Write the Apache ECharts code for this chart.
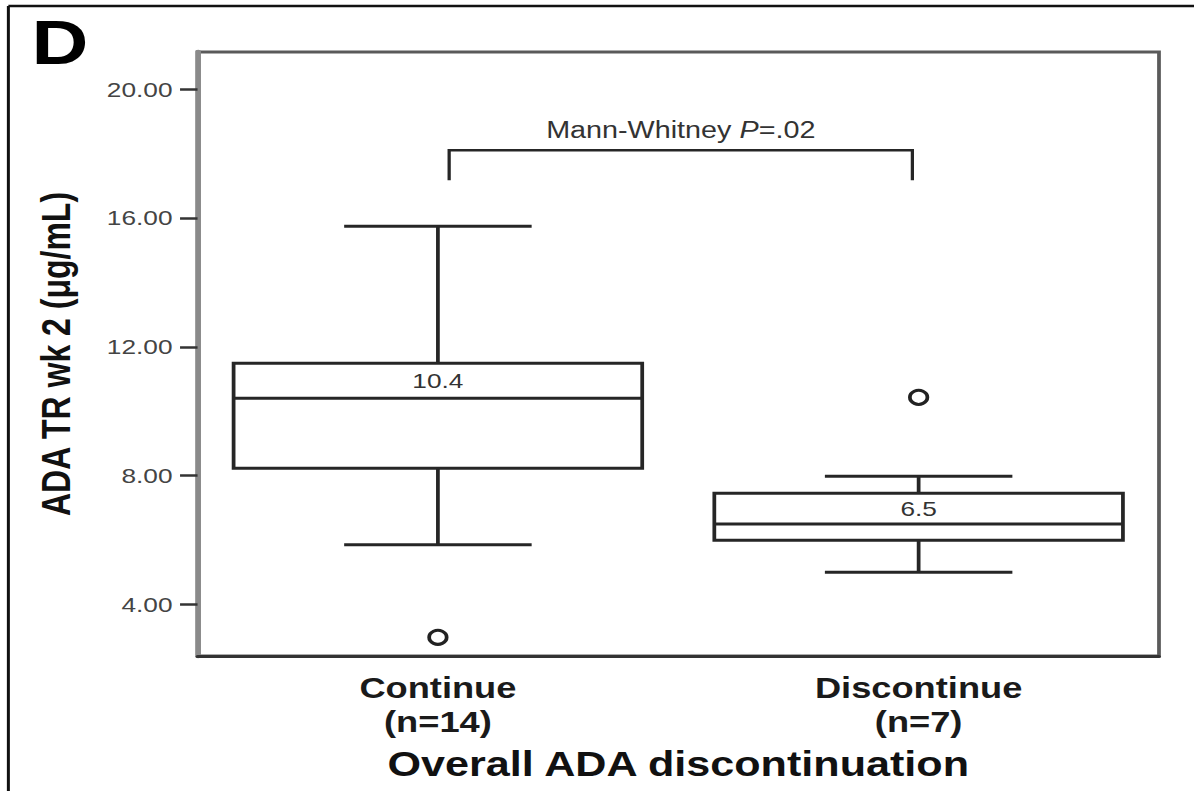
<!DOCTYPE html>
<html>
<head>
<meta charset="utf-8">
<title>ADA TR wk 2 by overall ADA discontinuation</title>
<script src="https://cdn.jsdelivr.net/npm/echarts@6/dist/echarts.min.js"></script>
<style>
  html, body { margin: 0; padding: 0; background: #fff; overflow: hidden; }
  #chart { width: 955px; height: 791px; transform-origin: 0 0; }
</style>
</head>
<body>
<div id="chart"></div>
<script>
// Groups along the x axis
const groupNames = ['Continue', 'Discontinue'];
const groupSizes = [14, 7];

// Five-number summaries per group (µg/mL)
const whiskerLow  = [5.85, 5.0];
const quartile1   = [8.23, 5.99];
const medians     = [10.4, 6.5];
const quartile3   = [11.49, 7.45];
const whiskerHigh = [15.74, 7.98];

// Points beyond the whiskers
const outlierGroup = [0, 1];
const outlierValue = [2.98, 10.43];

// Value-axis ticks
const yTicks = [4, 8, 12, 16, 20];

// Significance bracket: bar level and foot level, and the test result
const bracketLevels = [18.1, 17.17];
const pValueText = '.02';

// The figure is drawn narrow and widened horizontally
const WIDTH = 955, HEIGHT = 791;
const STRETCH = 1194 / WIDTH;
const FONT = '"Liberation Sans", Arial, Helvetica, sans-serif';
const INK = '#262626';

const el = document.getElementById('chart');
el.style.transform = 'scaleX(' + STRETCH + ')';

const categories = groupNames.map((g, i) => g + '\n(n=' + groupSizes[i] + ')');
const boxRows = groupNames.map((g, i) =>
  [i, whiskerLow[i], quartile1[i], medians[i], quartile3[i], whiskerHigh[i]]);
const outlierRows = outlierGroup.map((g, k) => [g, outlierValue[k]]);

const chart = echarts.init(el, null, { renderer: 'svg', width: WIDTH, height: HEIGHT });

function renderBox(params, api) {
  const i = api.value(0);
  const lo = api.coord([i, api.value(1)]);
  const q1 = api.coord([i, api.value(2)]);
  const md = api.coord([i, api.value(3)]);
  const q3 = api.coord([i, api.value(4)]);
  const hi = api.coord([i, api.value(5)]);
  const x = md[0];
  const band = api.size([1, 0])[0];
  const bw = band * 0.85;
  const cw = band * 0.39;
  const line = { stroke: INK, lineWidth: 3, fill: null };
  return {
    type: 'group',
    children: [
      { type: 'line', shape: { x1: x, y1: q3[1], x2: x, y2: hi[1] }, style: line },
      { type: 'line', shape: { x1: x - cw / 2, y1: hi[1], x2: x + cw / 2, y2: hi[1] }, style: line },
      { type: 'line', shape: { x1: x, y1: q1[1], x2: x, y2: lo[1] }, style: line },
      { type: 'line', shape: { x1: x - cw / 2, y1: lo[1], x2: x + cw / 2, y2: lo[1] }, style: line },
      { type: 'rect', shape: { x: x - bw / 2, y: q3[1], width: bw, height: q1[1] - q3[1] },
        style: { fill: '#fff', stroke: INK, lineWidth: 3 } },
      { type: 'line', shape: { x1: x - bw / 2, y1: md[1], x2: x + bw / 2, y2: md[1] }, style: line },
      { type: 'text', x: x, y: (md[1] + q3[1]) / 2,
        style: { text: api.value(3).toFixed(1), align: 'center', verticalAlign: 'middle',
                 fontSize: 21, fontFamily: FONT, fill: '#333' } }
    ]
  };
}

function renderBracket(params, api) {
  const a = api.coord([api.value(0), api.value(2)]);
  const b = api.coord([api.value(1), api.value(2)]);
  const foot = api.coord([api.value(0), api.value(3)])[1];
  const left = a[0] + 9, right = b[0] - 5, top = a[1];
  return {
    type: 'group',
    children: [
      { type: 'polyline',
        shape: { points: [[left, foot], [left, top], [right, top], [right, foot]] },
        style: { stroke: INK, lineWidth: 2.6, fill: null } },
      { type: 'text', x: (left + right) / 2, y: top - 20,
        style: {
          text: '{n|Mann-Whitney }{i|P}{n|=' + pValueText + '}',
          align: 'center', verticalAlign: 'middle',
          rich: {
            n: { fontSize: 23, fontFamily: FONT, fill: '#333', color: '#333' },
            i: { fontSize: 23, fontFamily: FONT, fontStyle: 'italic', fill: '#333', color: '#333' }
          }
        } }
    ]
  };
}

chart.setOption({
  backgroundColor: '#fff',
  animation: false,
  grid: {
    left: 158, right: 28, top: 52, bottom: 135,
    show: true, borderColor: '#5a5a5a', borderWidth: 3, backgroundColor: '#fff'
  },
  xAxis: {
    type: 'category',
    data: categories,
    boundaryGap: true,
    axisLine: { onZero: false, lineStyle: { color: '#333', width: 3 } },
    axisTick: { show: false },
    axisLabel: { margin: 15, fontSize: 29, fontWeight: 'bold', lineHeight: 34,
                 color: '#1a1a1a', fontFamily: FONT },
    name: 'Overall ADA discontinuation',
    nameLocation: 'middle',
    nameGap: 91,
    nameTextStyle: { fontSize: 34.5, fontWeight: 'bold', color: '#111', fontFamily: FONT }
  },
  yAxis: {
    type: 'value',
    min: 2.4,
    max: 21.15,
    axisLine: { show: true, lineStyle: { color: '#8a8a8a', width: 4.5 } },
    axisTick: { show: true, length: 14, customValues: yTicks,
                lineStyle: { color: '#333', width: 2.5 } },
    axisLabel: { customValues: yTicks, formatter: v => Number(v).toFixed(2),
                 margin: 20, fontSize: 21, color: '#444', fontFamily: FONT },
    splitLine: { show: false },
    name: 'ADA TR wk 2 (μg/mL)',
    nameLocation: 'middle',
    nameGap: 97,
    nameTextStyle: { fontSize: 32, fontWeight: 'bold', color: '#111', fontFamily: FONT }
  },
  graphic: [
    { type: 'line', shape: { x1: 6.7, y1: 6, x2: WIDTH, y2: 6 },
      style: { stroke: '#111', lineWidth: 2.5 } },
    { type: 'line', shape: { x1: 6.7, y1: 6, x2: 6.7, y2: HEIGHT },
      style: { stroke: '#111', lineWidth: 2.4 } },
    { type: 'text', x: 48, y: 41.5,
      style: { text: 'D', fontSize: 63, fontWeight: 'bold', fontFamily: FONT, fill: '#000',
               align: 'center', verticalAlign: 'middle' } }
  ],
  series: [
    {
      type: 'custom',
      name: 'box',
      renderItem: renderBox,
      encode: { x: 0, y: [1, 2, 3, 4, 5] },
      data: boxRows,
      z: 3
    },
    {
      type: 'scatter',
      name: 'outliers',
      data: outlierRows,
      symbol: 'circle',
      symbolSize: 14,
      itemStyle: { color: '#fff', borderColor: '#222', borderWidth: 3, opacity: 1 },
      z: 4
    },
    {
      type: 'custom',
      name: 'bracket',
      renderItem: renderBracket,
      encode: { x: [0, 1], y: [2, 3] },
      data: [[0, 1, bracketLevels[0], bracketLevels[1]]],
      z: 3
    }
  ]
});
</script>
</body>
</html>
